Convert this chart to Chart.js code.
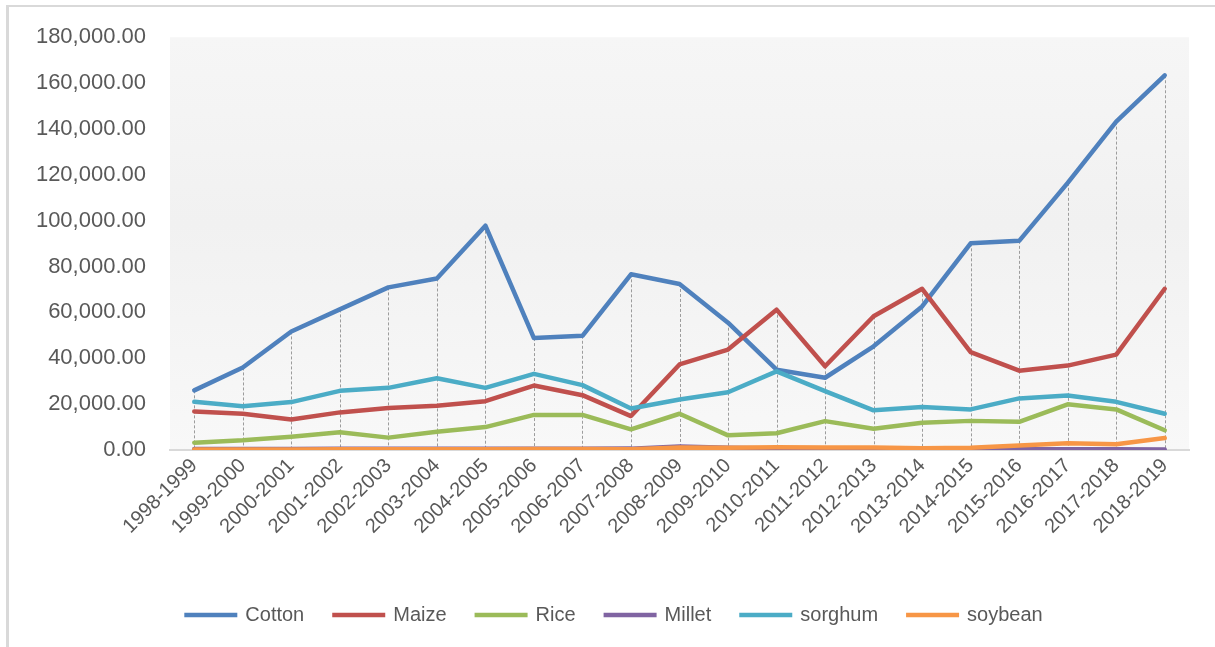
<!DOCTYPE html>
<html>
<head>
<meta charset="utf-8">
<script src="https://cdn.jsdelivr.net/npm/chart.js@4/dist/chart.umd.min.js"></script>
<style>
  html, body { margin: 0; padding: 0; background: #fff; }
  #wrap { position: relative; width: 1215px; height: 647px; }
  #frame { position: absolute; left: 6px; top: 5px; right: 0; bottom: 0;
           border-top: 2px solid #d9d9d9; border-left: 3px solid #d9d9d9; pointer-events: none; }
  canvas { position: absolute; left: 0; top: 0; }
</style>
</head>
<body>
<div id="wrap">
  <canvas id="c" width="1215" height="647"></canvas>
  <div id="frame"></div>
</div>
<script>
const categories = ["1998-1999","1999-2000","2000-2001","2001-2002","2002-2003","2003-2004","2004-2005",
  "2005-2006","2006-2007","2007-2008","2008-2009","2009-2010","2010-2011","2011-2012","2012-2013",
  "2013-2014","2014-2015","2015-2016","2016-2017","2017-2018","2018-2019"];
const cotton  = [26000,36000,51700,61300,70900,74800,97800,48800,49800,76600,72400,55500,35000,31500,45200,62600,90100,91200,116500,143200,163400];
const maize   = [16800,15800,13300,16400,18300,19300,21300,28100,23900,14800,37300,43800,61200,36500,58300,70300,42700,34600,36800,41600,70300];
const rice    = [3200,4200,5800,7700,5400,8000,10000,15300,15300,9000,15800,6400,7300,12600,9300,11900,12700,12300,19900,17700,8600];
const millet  = [400,400,400,500,500,500,500,500,500,600,1500,1000,700,600,500,400,300,300,300,300,200];
const sorghum = [21000,19100,20900,25800,27100,31300,27100,33200,28300,18100,22000,25200,34300,25700,17300,18800,17700,22500,23800,21000,15800];
const soybean = [200,200,200,300,300,300,300,400,400,300,1100,1000,1200,1100,1100,800,1000,2000,2900,2500,5200];
const yTicks = [0,20000,40000,60000,80000,100000,120000,140000,160000,180000];

const seriesNames  = ["Cotton","Maize","Rice","Millet","sorghum","soybean"];
const seriesData   = [cotton, maize, rice, millet, sorghum, soybean];
const seriesColors = ["#4F81BD","#C0504D","#9BBB59","#8064A2","#4BACC6","#F79646"];

const FONT = "'Liberation Sans', Arial, sans-serif";
const TXT = "#595959";

const bgPlugin = {
  id: 'plotBg',
  afterLayout(chart) {
    if (chart.legend) { chart.legend.left += 40; }
  },
  beforeDraw(chart) {
    const {ctx, chartArea: a} = chart;
    const g = ctx.createLinearGradient(0, a.top, 0, a.bottom);
    g.addColorStop(0, '#f6f6f6');
    g.addColorStop(0.45, '#f1f1f1');
    g.addColorStop(1, '#f8f8f8');
    ctx.save();
    ctx.fillStyle = g;
    ctx.fillRect(a.left, a.top, a.right - a.left, a.bottom - a.top);
    ctx.restore();
  },
  beforeDatasetsDraw(chart) {
    const {ctx} = chart;
    const xs = chart.scales.x, ys = chart.scales.y;
    ctx.save();
    ctx.strokeStyle = '#9c9c9c';
    ctx.lineWidth = 1;
    ctx.setLineDash([3, 2]);
    categories.forEach((c, i) => {
      const maxV = Math.max(...seriesData.map(s => s[i]));
      const x = Math.round(xs.getPixelForValue(i)) + 0.5;
      ctx.beginPath();
      ctx.moveTo(x, ys.getPixelForValue(maxV));
      ctx.lineTo(x, ys.getPixelForValue(0));
      ctx.stroke();
    });
    ctx.restore();
  }
};

new Chart(document.getElementById('c'), {
  type: 'line',
  data: {
    labels: categories,
    datasets: seriesNames.map((n, i) => ({
      label: n,
      data: seriesData[i],
      borderColor: seriesColors[i],
      backgroundColor: seriesColors[i],
      borderWidth: 4.5,
      pointRadius: 0,
      tension: 0,
      borderCapStyle: 'round',
      borderJoinStyle: 'round',
      order: seriesNames.length - i
    }))
  },
  options: {
    responsive: false,
    animation: false,
    layout: { padding: { left: 0, right: 26, top: 23, bottom: 12 } },
    plugins: {
      tooltip: { enabled: false },
      legend: {
        position: 'bottom',
        labels: {
          font: { family: FONT, size: 20 },
          color: TXT,
          boxWidth: 49,
          boxHeight: 0.5,
          padding: 30,
          generateLabels(chart) {
            return seriesNames.map((n, i) => ({
              text: n, fillStyle: seriesColors[i], strokeStyle: seriesColors[i],
              lineWidth: 4, hidden: false, datasetIndex: i, fontColor: TXT
            }));
          }
        }
      }
    },
    scales: {
      x: {
        offset: true,
        grid: { display: false, drawTicks: false },
        border: { display: true, color: '#d9d9d9', width: 2 },
        ticks: {
          font: { family: FONT, size: 20 },
          color: TXT,
          minRotation: 45, maxRotation: 45,
          autoSkip: false,
          padding: 4
        },
        afterFit(s) { s.height = 125; }
      },
      y: {
        min: 0, max: 180000,
        afterBuildTicks(s) { s.ticks = yTicks.map(v => ({ value: v })); },
        grid: { display: false, drawTicks: false },
        border: { display: false },
        ticks: {
          font: { family: FONT, size: 22 },
          color: TXT,
          padding: 24,
          callback: v => Number(v).toLocaleString('en-US', { minimumFractionDigits: 2, maximumFractionDigits: 2 })
        },
        afterFit(s) { s.width = 170; }
      }
    }
  },
  plugins: [bgPlugin]
});
</script>
</body>
</html>
